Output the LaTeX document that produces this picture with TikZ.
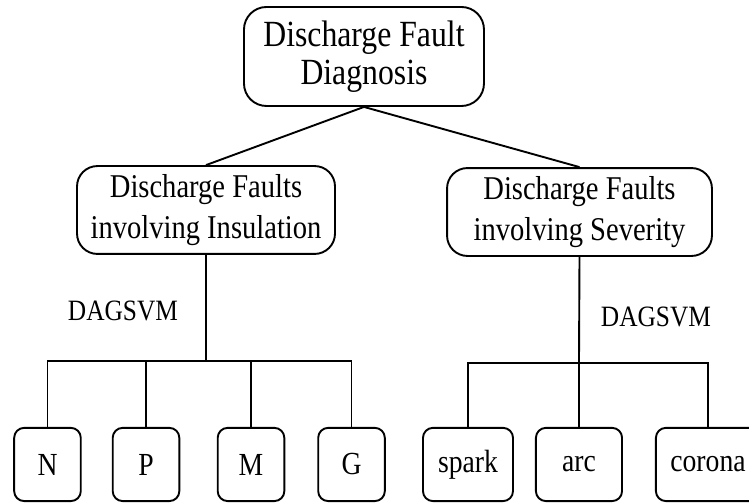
\documentclass[tikz,border=0pt]{standalone}
\usepackage{fontspec}
\setmainfont{Liberation Serif}[FakeStretch=0.86]
\tikzset{
  every picture/.style={line width=1.8pt},
  box/.style={draw, rounded corners=#1, align=center, inner sep=0pt},
  box/.default=0.68cm,
  leaf/.style={draw, rounded corners=0.33cm, minimum height=2.44cm, inner sep=0pt, font=\fontsize{30.5}{34}\selectfont},
  link/.style={line width=1.8pt},
  note/.style={font=\fontsize{28}{32}\selectfont},
}

\begin{document}
\begin{tikzpicture}
  \useasboundingbox (0,0) rectangle (24.967,16.8);
  % root
  \node[box=0.75cm, minimum width=8cm, minimum height=3.3cm, font=\fontsize{35}{36}\selectfont] (diag) at (12.133,14.917) {Discharge Fault\\Diagnosis};
  % second level
  \node[box, minimum width=8.6cm, minimum height=2.93cm, font=\fontsize{31.5}{39}\selectfont] (ins) at (6.867,9.8) {Discharge Faults\\involving Insulation};
  \node[box, minimum width=8.83cm, minimum height=2.93cm, font=\fontsize{31.5}{39}\selectfont] (sev) at (19.317,9.733) {Discharge Faults\\involving Severity};
  \draw[link] (diag.south) -- (ins.north);
  \draw[link] (diag.south) -- (sev.north);
  \node[note] (dagins) at (4.1,6.43) {DAGSVM};
  \node[note] (dagsev) at (21.867,6.233) {DAGSVM};
  % insulation classes
  \coordinate (insbar) at (6.867,4.767);
  \foreach \n/\x in {N/1.583, P/4.867, M/8.367, G/11.717}
    \node[leaf, minimum width=2.22cm] (\n) at (\x,1.317) {\n};
  \draw[link] (ins.south) -- (insbar);
  \foreach \n in {N,P,M,G} \draw[link] (insbar) -| (\n.north);
  % severity classes
  \coordinate (sevbar) at (19.3,4.7);
  \node[leaf, minimum width=3.0cm] (spark) at (15.6,1.317) {spark};
  \node[leaf, minimum width=2.87cm] (arc) at (19.3,1.317) {arc};
  \node[leaf, minimum width=3.47cm] (corona) at (23.6,1.317) {corona};
  \draw[link] (sev.south) -- (sevbar);
  \foreach \n in {spark,arc,corona} \draw[link] (sevbar) -| (\n.north);
\end{tikzpicture}
\end{document}
